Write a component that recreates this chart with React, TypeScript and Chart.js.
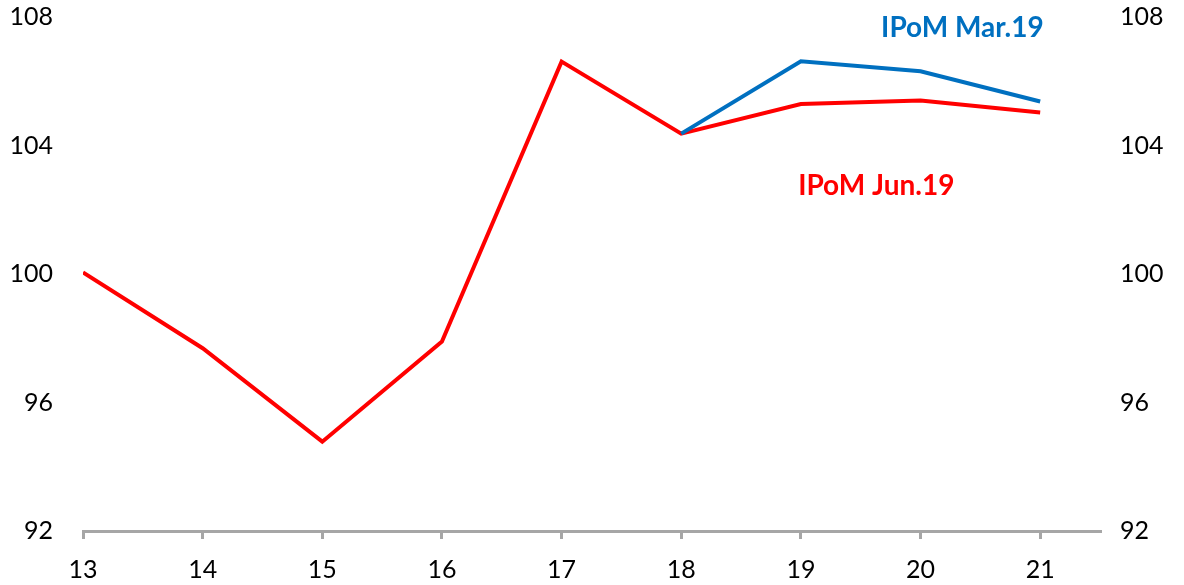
import React, { useEffect, useRef } from "react";
import { Chart, registerables } from "chart.js";

Chart.register(...registerables);

const years = [13, 14, 15, 16, 17, 18, 19, 20, 21];
const ipomJun19 = [100.05, 97.69, 94.78, 97.9, 106.61, 104.37, 105.29, 105.4, 105.03];
const ipomMar19 = [null, null, null, null, null, 104.37, 106.62, 106.31, 105.37];
const yTicks = [92, 96, 100, 104, 108];

const labelMar = { text: "IPoM Mar.19", x: 20.35, y: 107.66, color: "#0070C0" };
const labelJun = { text: "IPoM Jun.19", x: 19.63, y: 102.74, color: "#FF0000" };

const FONT = "Lato, 'Open Sans', sans-serif";

const annotationPlugin = {
  id: "annotations",
  afterDatasetsDraw(chart: any) {
    const { ctx, scales } = chart;
    ctx.save();
    ctx.font = `bold 28px ${FONT}`;
    ctx.textAlign = "center";
    ctx.textBaseline = "middle";
    for (const a of [labelMar, labelJun]) {
      ctx.fillStyle = a.color;
      ctx.fillText(a.text, scales.x.getPixelForValue(a.x), scales.y.getPixelForValue(a.y));
    }
    ctx.restore();
  },
};

export default function App() {
  const ref = useRef<HTMLCanvasElement | null>(null);
  useEffect(() => {
    if (!ref.current) return;
    const toPts = (arr: (number | null)[]) => years.map((x, i) => ({ x, y: arr[i] }));
    const fitY = (w: number) => (s: any) => {
      s.width = w;
      s.paddingTop = 0;
      s.paddingBottom = 0;
    };
    const chart = new Chart(ref.current, {
      type: "line",
      data: {
        datasets: [
          {
            label: "IPoM Mar.19",
            data: toPts(ipomMar19) as any,
            borderColor: "#0070C0",
            borderWidth: 4,
            pointRadius: 0,
            tension: 0,
            spanGaps: false,
          },
          {
            label: "IPoM Jun.19",
            data: toPts(ipomJun19) as any,
            borderColor: "#FF0000",
            borderWidth: 4,
            pointRadius: 0,
            tension: 0,
          },
        ],
      },
      options: {
        animation: false,
        responsive: false,
        maintainAspectRatio: false,
        layout: { padding: { top: 17, left: 0, right: 0, bottom: 0 } },
        plugins: { legend: { display: false }, tooltip: { enabled: false } },
        scales: {
          x: {
            type: "linear",
            min: 13,
            max: 21.5,
            afterFit: (s: any) => { s.height = 54; },
            border: { display: true, color: "#A6A6A6", width: 3 },
            grid: {
              drawOnChartArea: false,
              drawTicks: true,
              tickLength: 8,
              lineWidth: 3,
              color: "#A6A6A6",
            },
            ticks: {
              stepSize: 1,
              includeBounds: false,
              autoSkip: false,
              maxRotation: 0,
              padding: 16,
              color: "#000",
              font: { family: FONT, size: 25 },
              callback: (v: any) => (years.includes(v) ? String(v) : ""),
            },
          },
          y: {
            position: "left",
            min: 92,
            max: 108,
            afterFit: fitY(83),
            afterBuildTicks: (s: any) => { s.ticks = yTicks.map((v) => ({ value: v })); },
            border: { display: false },
            grid: { display: false, drawTicks: false },
            ticks: { padding: 30, color: "#000", font: { family: FONT, size: 25 } },
          },
          y2: {
            position: "right",
            min: 92,
            max: 108,
            afterFit: fitY(84),
            afterBuildTicks: (s: any) => { s.ticks = yTicks.map((v) => ({ value: v })); },
            border: { display: false },
            grid: { display: false, drawTicks: false },
            ticks: { padding: 20, color: "#000", font: { family: FONT, size: 25 } },
          },
        },
      } as any,
      plugins: [annotationPlugin],
    });
    return () => chart.destroy();
  }, []);
  return (
    <div style={{ position: "fixed", left: 0, top: 0, width: 1184, height: 585, background: "#fff" }}>
      <canvas ref={ref} width={1184} height={585} style={{ width: 1184, height: 585 }} />
    </div>
  );
}
